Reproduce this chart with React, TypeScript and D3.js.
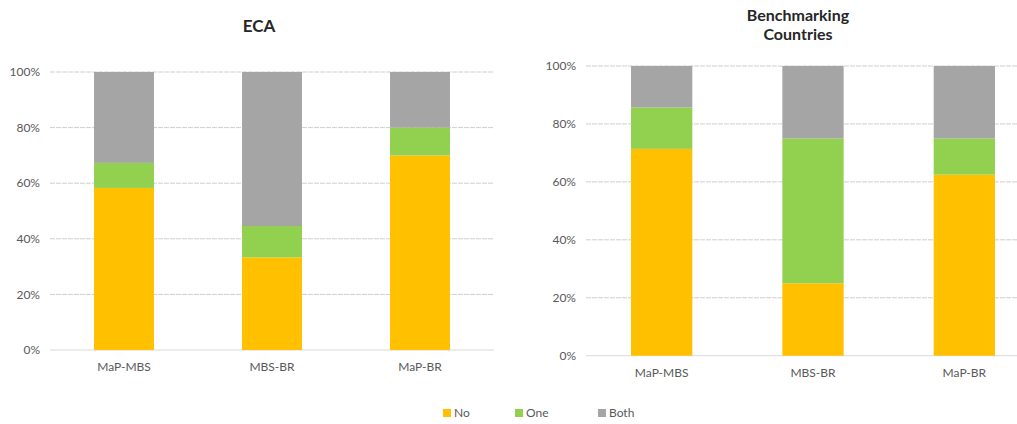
import React from "react";
import * as d3 from "d3";

const categories = ["MaP-MBS", "MBS-BR", "MaP-BR"];
const seriesKeys = ["No", "One", "Both"];
const seriesColors = ["#FFC000", "#92D050", "#A5A5A5"];
const yTicks = [0, 0.2, 0.4, 0.6, 0.8, 1.0];

const ecaNo = [0.583, 0.333, 0.7];
const ecaOne = [0.09, 0.113, 0.1];
const ecaBoth = [0.327, 0.554, 0.2];

const benchNo = [0.714, 0.25, 0.625];
const benchOne = [0.143, 0.5, 0.125];
const benchBoth = [0.143, 0.25, 0.25];

const FONT = "Lato, 'Open Sans', sans-serif";

type PanelProps = {
  title: string[];
  titleX: number;
  titleY: number;
  titleSize: number;
  x0: number;
  x1: number;
  yTop: number;
  yBottom: number;
  labelY: number;
  no: number[];
  one: number[];
  both: number[];
};

function Panel(p: PanelProps) {
  const x = d3
    .scaleBand<string>()
    .domain(categories)
    .range([p.x0, p.x1])
    .paddingInner(0.595)
    .paddingOuter(0.2975);
  const y = d3.scaleLinear().domain([0, 1]).range([p.yBottom, p.yTop]);
  const rows = categories.map((c, i) => ({ cat: c, No: p.no[i], One: p.one[i], Both: p.both[i] }));
  const stacked = d3.stack<any>().keys(seriesKeys)(rows);
  const fmt = d3.format(".0%");
  return (
    <g>
      {p.title.map((t, i) => (
        <text
          key={t}
          x={p.titleX}
          y={p.titleY + i * 19}
          textAnchor="middle"
          fontFamily={FONT}
          fontWeight="bold"
          fontSize={p.titleSize}
          fill="#262626"
        >
          {t}
        </text>
      ))}
      {yTicks.map((t) => (
        <g key={t}>
          <line
            x1={p.x0}
            x2={p.x1}
            y1={y(t)}
            y2={y(t)}
            stroke={t === 0 ? "#D9D9D9" : "#CFCFCF"}
            strokeWidth={1}
            strokeDasharray={t === 0 ? undefined : "5 1"}
          />
          <text
            x={p.x0 - 10}
            y={y(t)}
            dy="0.35em"
            textAnchor="end"
            fontFamily={FONT}
            fontSize={12}
            fill="#595959"
          >
            {fmt(t)}
          </text>
        </g>
      ))}
      {stacked.map((s, si) => (
        <g key={s.key} fill={seriesColors[si]}>
          {s.map((d: any) => (
            <rect
              key={d.data.cat}
              x={x(d.data.cat)}
              width={x.bandwidth()}
              y={y(d[1])}
              height={y(d[0]) - y(d[1])}
            />
          ))}
        </g>
      ))}
      {categories.map((c) => (
        <text
          key={c}
          x={(x(c) as number) + x.bandwidth() / 2}
          y={p.labelY}
          textAnchor="middle"
          fontFamily={FONT}
          fontSize={12}
          fill="#595959"
        >
          {c}
        </text>
      ))}
    </g>
  );
}

export default function App() {
  const legendX = [443, 515, 598];
  return (
    <div style={{ position: "fixed", left: 0, top: 0 }}>
      <svg width={1017} height={424} style={{ display: "block", background: "#fff" }}>
        <Panel
          title={["ECA"]}
          titleX={259}
          titleY={32}
          titleSize={17}
          x0={50}
          x1={494}
          yTop={72}
          yBottom={350}
          labelY={371}
          no={ecaNo}
          one={ecaOne}
          both={ecaBoth}
        />
        <Panel
          title={["Benchmarking", "Countries"]}
          titleX={798}
          titleY={21}
          titleSize={16}
          x0={586}
          x1={1040}
          yTop={66}
          yBottom={355.7}
          labelY={377}
          no={benchNo}
          one={benchOne}
          both={benchBoth}
        />
        {seriesKeys.map((k, i) => (
          <g key={k}>
            <rect x={legendX[i]} y={409} width={8} height={8} fill={seriesColors[i]} />
            <text
              x={legendX[i] + 11}
              y={417}
              fontFamily={FONT}
              fontSize={12}
              fill="#595959"
            >
              {k}
            </text>
          </g>
        ))}
      </svg>
    </div>
  );
}
